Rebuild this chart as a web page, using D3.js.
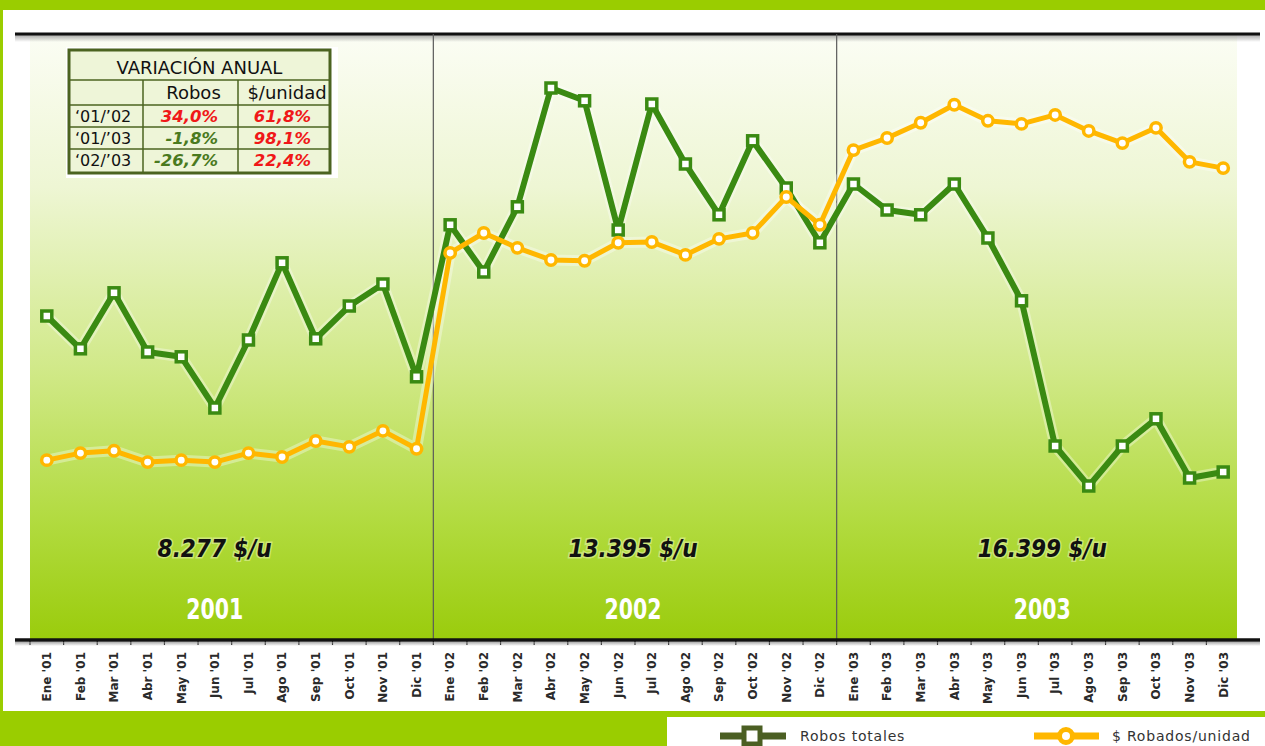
<!DOCTYPE html>
<html>
<head>
<meta charset="utf-8">
<script src="https://cdn.jsdelivr.net/npm/d3@7"></script>
<style>
  body { margin: 0; background: #fff; }
  svg { display: block; }
</style>
</head>
<body>
<svg id="vis" width="1265" height="746"></svg>
<script>
const svg = d3.select('#vis');
const width = +svg.attr('width');
const height = +svg.attr('height');

// Data
const months = ['Ene', 'Feb', 'Mar', 'Abr', 'May', 'Jun', 'Jul', 'Ago', 'Sep', 'Oct', 'Nov', 'Dic'];
const yearCodes = ['01', '02', '03'];
const periods = yearCodes.flatMap(y => months.map(m => `${m} '${y}`));

const robosTotales = [
  1150, 1068, 1208, 1060, 1048, 920, 1090, 1283, 1093, 1175, 1230, 998,
  1378, 1260, 1423, 1720, 1688, 1365, 1680, 1530, 1403, 1588, 1470, 1333,
  1480, 1415, 1403, 1480, 1345, 1188, 825, 725, 825, 893, 745, 760,
];
const robadosUnidad = [
  8100, 8280, 8340, 8050, 8100, 8050, 8280, 8180, 8590, 8440, 8850, 8390,
  13400, 13910, 13530, 13220, 13200, 13660, 13680, 13350, 13760, 13910, 14830, 14120,
  16030, 16340, 16730, 17190, 16780, 16700, 16930, 16520, 16210, 16600, 15730, 15570,
];

const yearLabels = ['2001', '2002', '2003'];
const yearAverages = ['8.277 $/u', '13.395 $/u', '16.399 $/u'];

const tableTitle = 'VARIACIÓN ANUAL';
const tableHeaders = ['', 'Robos', '$/unidad'];
const tableRows = ['‘01/’02', '‘01/’03', '‘02/’03'];
const varRobos = ['34,0%', '-1,8%', '-26,7%'];
const varUnidad = ['61,8%', '98,1%', '22,4%'];

const legendLabels = ['Robos totales', '$ Robados/unidad'];

// Layout
const plot = { left: 30, right: 1240, top: 35, bottom: 640 };
const brand = '#9acd00';
const greenLine = '#3a8a12';
const orangeLine = '#ffb700';

const x = d3.scaleBand().domain(periods).range([plot.left, plot.right]);
const yRobos = d3.scaleLinear().domain([0, 1940]).range([776, 0]);
const yPrecio = d3.scaleLinear().domain([3500, 19000]).range([plot.bottom, 34]);

const defs = svg.append('defs');
const bg = defs.append('linearGradient').attr('id', 'bg')
  .attr('x1', 0).attr('y1', 0).attr('x2', 0).attr('y2', 1);
bg.append('stop').attr('offset', 0).attr('stop-color', '#fbfdf4');
bg.append('stop').attr('offset', 0.25).attr('stop-color', '#eef6d4');
bg.append('stop').attr('offset', 0.55).attr('stop-color', '#d1e989');
bg.append('stop').attr('offset', 0.8).attr('stop-color', '#b2db40');
bg.append('stop').attr('offset', 1).attr('stop-color', '#9acc0c');

const shade = defs.append('linearGradient').attr('id', 'shade')
  .attr('x1', 0).attr('y1', 0).attr('x2', 0).attr('y2', 1);
shade.append('stop').attr('offset', 0).attr('stop-color', '#888').attr('stop-opacity', 0.7);
shade.append('stop').attr('offset', 1).attr('stop-color', '#888').attr('stop-opacity', 0);

// Frame
svg.append('rect').attr('x', 0).attr('y', 0).attr('width', width).attr('height', 10).attr('fill', brand);
svg.append('rect').attr('x', 0).attr('y', 0).attr('width', 3).attr('height', height).attr('fill', brand);
svg.append('rect').attr('x', 0).attr('y', 711).attr('width', width).attr('height', 6).attr('fill', brand);
svg.append('rect').attr('x', 0).attr('y', 711).attr('width', 667).attr('height', 35).attr('fill', brand);

// Plot background
svg.append('rect')
  .attr('x', plot.left).attr('y', plot.top)
  .attr('width', 1237 - plot.left).attr('height', plot.bottom - plot.top)
  .attr('fill', 'url(#bg)');

svg.append('rect').attr('x', 15).attr('y', 35).attr('width', 1245).attr('height', 7).attr('fill', 'url(#shade)');
svg.append('line').attr('x1', 15).attr('x2', 1260).attr('y1', 34).attr('y2', 34)
  .attr('stroke', '#111').attr('stroke-width', 3);

// Year separators
[12, 24].forEach(i => {
  const sx = x(periods[i]);
  svg.append('line').attr('x1', sx).attr('x2', sx).attr('y1', 34).attr('y2', plot.bottom)
    .attr('stroke', '#5a5a5a').attr('stroke-width', 1.2);
});

// Year averages and year labels
const yearDx = [-17, -2, 4];
yearLabels.forEach((yr, i) => {
  const cx = (x(periods[i * 12]) + x(periods[i * 12 + 11]) + x.bandwidth()) / 2 + yearDx[i];
  svg.append('text')
    .attr('x', cx).attr('y', 557)
    .attr('text-anchor', 'middle')
    .style('font-family', '"DejaVu Sans Condensed", "DejaVu Sans", sans-serif')
    .style('font-weight', 'bold').style('font-style', 'italic')
    .style('font-size', '24px')
    .attr('fill', '#111')
    .attr('stroke', '#e4f2a8').attr('stroke-width', 3).attr('stroke-opacity', 0.6)
    .style('paint-order', 'stroke')
    .text(yearAverages[i]);
  svg.append('text')
    .attr('x', cx).attr('y', 619)
    .attr('text-anchor', 'middle')
    .attr('textLength', 57).attr('lengthAdjust', 'spacingAndGlyphs')
    .style('font-family', '"DejaVu Sans Condensed", "DejaVu Sans", sans-serif')
    .style('font-weight', 'bold')
    .style('font-size', '29px')
    .attr('fill', '#fff')
    .text(yr);
});

// X axis
const xAxis = svg.append('g')
  .attr('transform', `translate(0,${plot.bottom})`)
  .call(d3.axisBottom(x).tickSizeOuter(0).tickSizeInner(5));
xAxis.select('.domain').remove();
xAxis.selectAll('.tick line')
  .attr('x1', -x.bandwidth() / 2).attr('x2', -x.bandwidth() / 2)
  .attr('stroke', '#222').attr('stroke-width', 1.2);
xAxis.selectAll('.tick text')
  .attr('transform', 'rotate(-90)')
  .attr('x', -12).attr('y', 0).attr('dy', '0.36em')
  .attr('text-anchor', 'end')
  .style('font-family', '"DejaVu Sans", sans-serif')
  .style('font-weight', 'bold')
  .style('font-size', '12px')
  .attr('fill', '#2a2a2a');
svg.append('rect').attr('x', 15).attr('y', 642).attr('width', 1245).attr('height', 4).attr('fill', 'url(#shade)');
svg.append('line').attr('x1', 15).attr('x2', 1260).attr('y1', 640).attr('y2', 640)
  .attr('stroke', '#111').attr('stroke-width', 3.5);

// Lines
const cx = d => x(d) + x.bandwidth() / 2;
const lineRobos = d3.line().x((d, i) => cx(periods[i])).y(d => yRobos(d));
const linePrecio = d3.line().x((d, i) => cx(periods[i])).y(d => yPrecio(d));

svg.append('path').datum(robosTotales).attr('d', lineRobos)
  .attr('fill', 'none').attr('stroke', '#fff').attr('stroke-opacity', 0.35)
  .attr('stroke-width', 11).attr('stroke-linejoin', 'round');
svg.append('path').datum(robadosUnidad).attr('d', linePrecio)
  .attr('fill', 'none').attr('stroke', '#fff').attr('stroke-opacity', 0.35)
  .attr('stroke-width', 11).attr('stroke-linejoin', 'round');

svg.append('path').datum(robosTotales).attr('d', lineRobos)
  .attr('fill', 'none').attr('stroke', greenLine).attr('stroke-width', 6).attr('stroke-linejoin', 'round');
svg.append('path').datum(robadosUnidad).attr('d', linePrecio)
  .attr('fill', 'none').attr('stroke', orangeLine).attr('stroke-width', 5).attr('stroke-linejoin', 'round');

svg.selectAll('rect.robo')
  .data(robosTotales)
  .enter()
  .append('rect')
  .attr('class', 'robo')
  .attr('x', (d, i) => cx(periods[i]) - 5)
  .attr('y', d => yRobos(d) - 5)
  .attr('width', 10).attr('height', 10)
  .attr('fill', '#fff').attr('stroke', greenLine).attr('stroke-width', 3.5);

svg.selectAll('circle.precio')
  .data(robadosUnidad)
  .enter()
  .append('circle')
  .attr('class', 'precio')
  .attr('cx', (d, i) => cx(periods[i]))
  .attr('cy', d => yPrecio(d))
  .attr('r', 5.2)
  .attr('fill', '#fff').attr('stroke', orangeLine).attr('stroke-width', 3.5);

// Table
const tbl = { x: 69, y: 50, colX: [69, 143, 238, 330], rowY: [50, 80, 105, 127, 149, 173] };
const tg = svg.append('g');
tg.append('rect').attr('x', tbl.x - 3).attr('y', tbl.y - 3).attr('width', 272).attr('height', 131).attr('fill', '#fff');
tg.append('rect').attr('x', tbl.x).attr('y', tbl.y)
  .attr('width', tbl.colX[3] - tbl.x).attr('height', tbl.rowY[5] - tbl.y)
  .attr('fill', '#eef5d8').attr('stroke', '#4b6320').attr('stroke-width', 3);
tbl.rowY.slice(1, 5).forEach(ry => {
  tg.append('line').attr('x1', tbl.x).attr('x2', tbl.colX[3]).attr('y1', ry).attr('y2', ry)
    .attr('stroke', '#4b6320').attr('stroke-width', 1.5);
});
tbl.colX.slice(1, 3).forEach(cxx => {
  tg.append('line').attr('x1', cxx).attr('x2', cxx).attr('y1', tbl.rowY[1]).attr('y2', tbl.rowY[5])
    .attr('stroke', '#4b6320').attr('stroke-width', 1.5);
});
const tFont = '"DejaVu Sans", sans-serif';
tg.append('text').attr('x', (tbl.x + tbl.colX[3]) / 2).attr('y', 74)
  .attr('text-anchor', 'middle').style('font-family', tFont).style('font-size', '18px')
  .attr('fill', '#111').text(tableTitle);
tableHeaders.forEach((h, i) => {
  if (!h) return;
  tg.append('text').attr('x', (tbl.colX[i] + tbl.colX[i + 1]) / 2 + 3).attr('y', 99)
    .attr('text-anchor', 'middle').style('font-family', tFont).style('font-size', '18px')
    .attr('fill', '#111').text(h);
});
const valColor = v => (v.startsWith('-') ? '#4a7a1e' : '#f01818');
tableRows.forEach((r, i) => {
  const by = tbl.rowY[i + 2] + 17;
  tg.append('text').attr('x', 75).attr('y', by)
    .style('font-family', tFont).style('font-size', '16px').attr('fill', '#111').text(r);
  tg.append('text').attr('x', 218).attr('y', by).attr('text-anchor', 'end')
    .style('font-family', tFont).style('font-size', '16.5px')
    .style('font-weight', 'bold').style('font-style', 'italic')
    .attr('fill', valColor(varRobos[i])).text(varRobos[i]);
  tg.append('text').attr('x', 311).attr('y', by).attr('text-anchor', 'end')
    .style('font-family', tFont).style('font-size', '16.5px')
    .style('font-weight', 'bold').style('font-style', 'italic')
    .attr('fill', valColor(varUnidad[i])).text(varUnidad[i]);
});

// Legend
const lg = svg.append('g');
lg.append('line').attr('x1', 720).attr('x2', 786).attr('y1', 736).attr('y2', 736)
  .attr('stroke', '#4b5f23').attr('stroke-width', 7);
lg.append('rect').attr('x', 744).attr('y', 728).attr('width', 16).attr('height', 16)
  .attr('fill', '#fff').attr('stroke', '#4b5f23').attr('stroke-width', 5);
lg.append('line').attr('x1', 1034).attr('x2', 1099).attr('y1', 736).attr('y2', 736)
  .attr('stroke', orangeLine).attr('stroke-width', 7);
lg.append('circle').attr('cx', 1066).attr('cy', 736).attr('r', 6.5)
  .attr('fill', '#fff').attr('stroke', orangeLine).attr('stroke-width', 5);
[[800, legendLabels[0]], [1112, legendLabels[1]]].forEach(([lx, t]) => {
  lg.append('text').attr('x', lx).attr('y', 741)
    .style('font-family', tFont).style('font-size', '14px').style('letter-spacing', '0.8px')
    .attr('fill', '#333').text(t);
});
</script>
</body>
</html>
